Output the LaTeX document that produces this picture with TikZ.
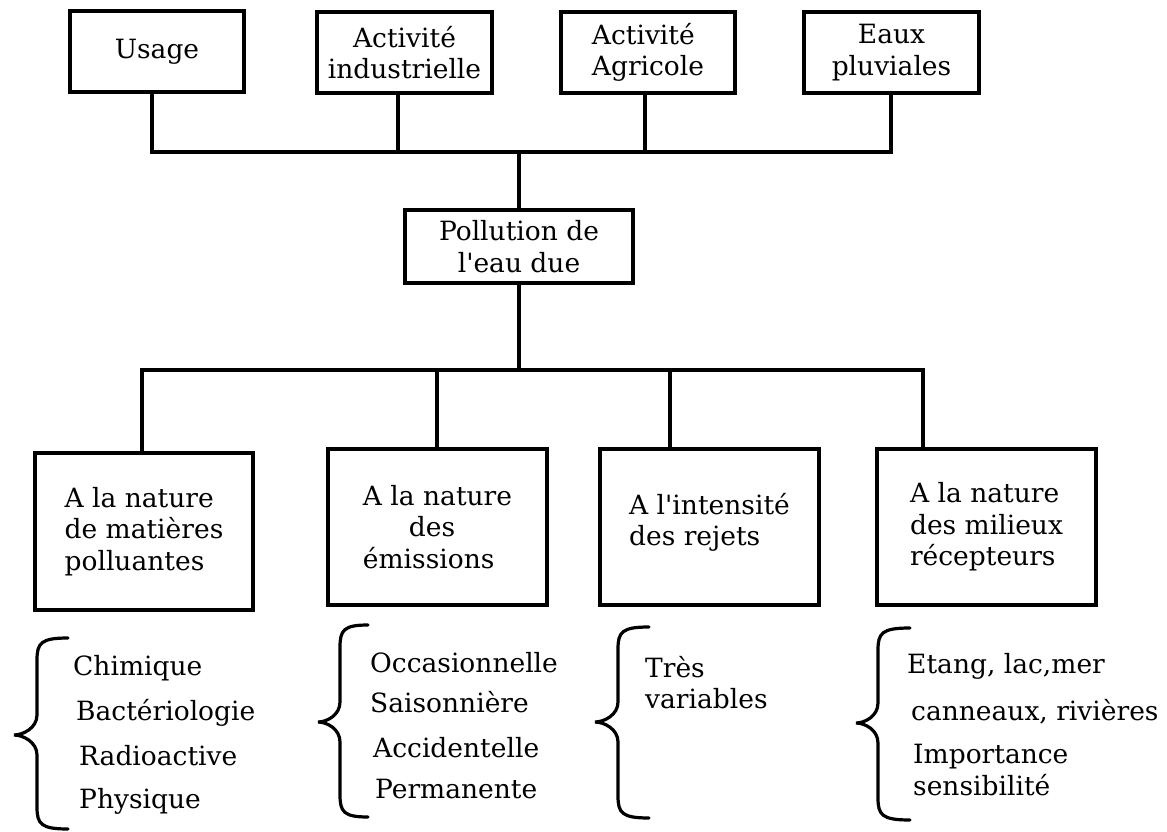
\documentclass[tikz,border=0pt]{standalone}
\usepackage{fontspec}
\setmainfont{DejaVu Serif}
\newcommand\dfont{\fontsize{26.5}{31.5}\selectfont}
\newcommand\drawbrace[6]{%
  \draw[brace line] ({#3},{#4}) .. controls ({#2+4},{#4}) and ({#2},{#4+5}) .. ({#2},{#4+22})
    -- ({#2},{#5-20}) .. controls ({#2},{#5-7}) and ({#1+9},{#5}) .. ({#1},{#5})
    .. controls ({#1+9},{#5}) and ({#2},{#5+7}) .. ({#2},{#5+20})
    -- ({#2},{#6-22}) .. controls ({#2},{#6-5}) and ({#2+4},{#6}) .. ({#3},{#6});}
\begin{document}
\begin{tikzpicture}[x=1pt,y=-1pt,
  box/.style={draw, line width=4pt, inner sep=0pt, font=\dfont, align=center},
  lbox/.style={box, align=left},
  conn/.style={line width=3.5pt, line join=miter},
  item/.style={anchor=base west, inner sep=0pt, font=\dfont},
  brace line/.style={line width=3.2pt, line cap=round}]
\useasboundingbox (0,0) rectangle (1167,832);

% top boxes
\node[box, minimum width=174pt, minimum height=81pt] (usage) at (157,51.5) {Usage};
\node[box, minimum width=175pt, minimum height=81pt] (indus) at (404.5,52.5) {Activité\\industrielle};
\node[lbox, minimum width=174pt, minimum height=81pt] (agri) at (648,52.5) {Activité\\Agricole};
\node[box, minimum width=175pt, minimum height=81pt] (eaux) at (891.5,52.5) {Eaux\\pluviales};

% central box
\node[box, minimum width=228pt, minimum height=73pt] (pol) at (519,246.5) {Pollution de\\l\textquotesingle eau due};

% lower boxes
\node[lbox, minimum width=218pt, minimum height=157pt] (b1) at (144,531.5) {A la nature\\de matières\\polluantes};
\node[lbox, minimum width=219pt, minimum height=156pt] (b2) at (437.5,527) {A la nature\\\hspace*{46pt}des\\émissions};
\node[lbox, minimum width=219pt, minimum height=156pt] (b3) at (709.5,527) {A l\textquotesingle intensité\\des rejets\\[-16pt]\mbox{}};
\node[lbox, minimum width=219pt, minimum height=156pt] (b4) at (986.5,527) {A la nature\\des milieux\\récepteurs};

% upper connectors
\coordinate (t1) at (152,152);
\coordinate (t2) at (398,152);
\coordinate (t3) at (645,152);
\coordinate (t4) at (891,152);
\coordinate (tc) at (519,152);
\draw[conn] (usage.south -| t1) -- (t1) -- (t4) -- (eaux.south -| t4);
\draw[conn] (indus.south -| t2) -- (t2);
\draw[conn] (agri.south -| t3) -- (t3);
\draw[conn] (tc) -- (pol.north -| tc);

% lower connectors
\coordinate (l1) at (142,370);
\coordinate (l2) at (437,370);
\coordinate (l3) at (670,370);
\coordinate (l4) at (923,370);
\coordinate (lc) at (519,370);
\draw[conn] (pol.south -| lc) -- (lc);
\draw[conn] (b1.north -| l1) -- (l1) -- (l4) -- (b4.north -| l4);
\draw[conn] (l2) -- (b2.north -| l2);
\draw[conn] (l3) -- (b3.north -| l3);

% braces
\drawbrace{14}{37}{68}{638}{735}{829}
\drawbrace{318}{340}{368}{625}{722}{817}
\drawbrace{595}{618}{649}{627}{722}{818}
\drawbrace{856}{878}{910}{628}{723}{820}

% lists
\node[item] (i11) at (73,675) {Chimique};
\node[item] (i12) at (76,720) {Bactériologie};
\node[item] (i13) at (79,765) {Radioactive};
\node[item] (i14) at (79,808) {Physique};

\node[item] (i21) at (370,672) {Occasionnelle};
\node[item] (i22) at (370,712) {Saisonnière};
\node[item] (i23) at (373,757) {Accidentelle};
\node[item] (i24) at (375,798) {Permanente};

\node[item] (i31) at (645,677) {Très};
\node[item] (i32) at (645,708) {variables};

\node[item] (i41) at (907,673) {Etang, lac,mer};
\node[item] (i42) at (911,720) {canneaux, rivières};
\node[item] (i43) at (913,763) {Importance};
\node[item] (i44) at (913,795) {sensibilité};
\end{tikzpicture}
\end{document}
